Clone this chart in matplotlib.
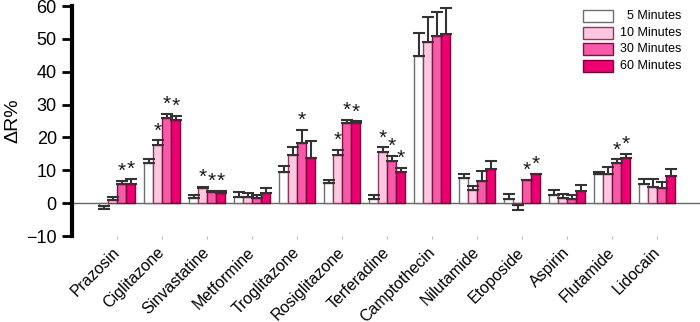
import numpy as np
import matplotlib
matplotlib.use("Agg")
import matplotlib.pyplot as plt

plt.rcParams['font.family'] = ['Liberation Sans', 'DejaVu Sans']

drugs = ["Prazosin", "Ciglitazone", "Sinvastatine", "Metformine", "Troglitazone",
         "Rosiglitazone", "Terferadine", "Camptothecin", "Nilutamide", "Etoposide",
         "Aspirin", "Flutamide", "Lidocain"]

labels = ["5 Minutes", "10 Minutes", "30 Minutes", "60 Minutes"]

m5 = [-1.0, 12.3, 1.7, 1.9, 9.4, 6.2, 1.3, 44.8, 7.8, 1.4, 2.5, 9.0, 5.7]
e5 = [0.8, 1.1, 0.8, 1.4, 2.0, 0.8, 1.1, 7.0, 1.2, 1.4, 1.4, 0.6, 1.8]
m10 = [1.1, 17.7, 4.7, 1.9, 14.8, 14.8, 15.6, 49.2, 4.1, -0.7, 1.7, 8.8, 4.8]
e10 = [0.8, 1.4, 0.3, 1.1, 2.4, 1.3, 1.4, 7.4, 1.2, 1.4, 1.1, 2.1, 2.5]
m30 = [5.8, 25.8, 3.3, 1.7, 18.2, 24.3, 12.9, 50.9, 6.9, 7.0, 1.4, 12.1, 4.5]
e30 = [1.0, 1.5, 0.4, 0.7, 4.1, 1.0, 1.4, 7.2, 2.9, 0.2, 1.1, 1.2, 2.0]
m60 = [5.7, 25.3, 3.0, 3.0, 13.8, 24.5, 9.5, 51.5, 10.3, 8.8, 3.6, 13.9, 8.3]
e60 = [1.6, 1.2, 0.7, 1.5, 5.1, 0.4, 1.3, 7.8, 2.6, 0.2, 1.8, 1.2, 2.1]

# significant groups (asterisks)
sig5 = []
sig10 = ["Ciglitazone", "Sinvastatine", "Rosiglitazone", "Terferadine"]
sig30 = ["Prazosin", "Ciglitazone", "Sinvastatine", "Troglitazone", "Rosiglitazone",
         "Terferadine", "Etoposide", "Flutamide"]
sig60 = ["Prazosin", "Ciglitazone", "Sinvastatine", "Rosiglitazone", "Terferadine",
         "Etoposide", "Flutamide"]

means = [m5, m10, m30, m60]
errs = [e5, e10, e30, e60]
sigs = [sig5, sig10, sig30, sig60]
faces = ["#ffffff", "#ffc8e0", "#f75aa8", "#ee0072"]
edges = ["#6e6e6e", "#8a3a60", "#801040", "#7a0038"]

fig = plt.figure(figsize=(7, 3.22), dpi=100)
ax = fig.add_axes([0.103, 0.267, 0.897, 0.714])

x = np.arange(len(drugs))
w = 0.2
for i in range(4):
    vals = np.array(means[i])
    e = np.array(errs[i])
    pos = x + (i - 1.5) * w
    ax.bar(pos, vals, w, color=faces[i], edgecolor=edges[i], linewidth=1, zorder=2)
    lower = np.where(vals < 0, e, 0)
    upper = np.where(vals >= 0, e, 0)
    ax.errorbar(pos, vals, yerr=[lower, upper], fmt="none", ecolor="#333333",
                elinewidth=1.5, capsize=4.2, capthick=1.5, zorder=3)
    for j, d in enumerate(drugs):
        if d in sigs[i]:
            top = vals[j] + e[j]
            ax.annotate("*", (pos[j], top), xytext=(0, 0), textcoords="offset pixels",
                        ha="center", va="bottom", fontsize=15, color="#1a1a1a")

ax.axhline(0, color="#666666", lw=1, zorder=1)

ax.set_xlim(-1, 12.95)
ax.set_ylim(-10, 60)
ax.set_yticks(range(-10, 61, 10))
ax.tick_params(axis="y", direction="out", length=7, width=2, labelsize=13, pad=4)
ax.set_xticks(x)
ax.set_xticklabels(drugs, rotation=45, ha="right", va="center",
                   rotation_mode="anchor", fontsize=11.5)
ax.tick_params(axis="x", length=2, width=0.6, color="#aaaaaa", pad=8)

for s in ["top", "right", "bottom"]:
    ax.spines[s].set_visible(False)
ax.spines["left"].set_linewidth(3)

ax.set_ylabel("ΔR%", fontsize=14)
ax.yaxis.set_label_coords(-0.080, 0.5)

# legend, text right aligned
for i in range(4):
    yc = 0.958 - i * 0.073
    ax.add_patch(plt.Rectangle((0.814, yc - 0.026), 0.048, 0.052, transform=ax.transAxes,
                               facecolor=faces[i], edgecolor=edges[i], lw=1, clip_on=False))
    ax.text(0.970, yc, labels[i], transform=ax.transAxes, ha="right", va="center",
            fontsize=9)

fig.savefig("out.png", dpi=100)
